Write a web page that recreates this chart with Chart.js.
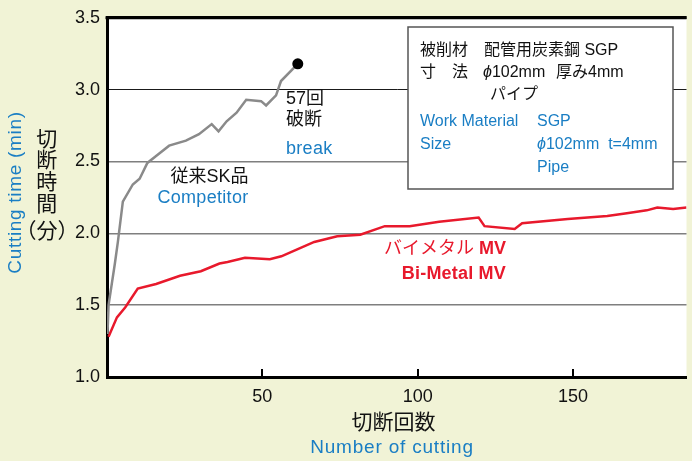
<!DOCTYPE html>
<html><head><meta charset="utf-8">
<script src="https://cdn.jsdelivr.net/npm/chart.js@4/dist/chart.umd.min.js"></script>
<style>html,body{margin:0;padding:0;background:#f1f3d6;} canvas{display:block;}</style>
</head><body>
<canvas id="c" width="692" height="461"></canvas>
<script>
// ---- data ----
const competitorX = [0.15, 0.5, 2.5, 3.5, 5.1, 8.3, 10.5, 13.0, 15.9, 20.0, 25.4, 29.6, 33.7, 35.9, 38.5, 41.7, 44.8, 49.6, 51.2, 54.4, 56.0, 61.4];
const competitorY = [1.30, 1.50, 1.785, 1.94, 2.22, 2.34, 2.38, 2.49, 2.54, 2.61, 2.645, 2.69, 2.76, 2.71, 2.78, 2.84, 2.93, 2.92, 2.89, 2.96, 3.06, 3.18];
const bimetalX = [0.5, 3.2, 5.9, 9.9, 15.8, 23.5, 30.2, 36.2, 38.8, 44.4, 52.4, 56.1, 61.4, 66.7, 74.1, 81.5, 89.4, 97.4, 106.9, 119.6, 121.5, 131.2, 133.6, 148.3, 161.0, 167.3, 173.7, 177.1, 182.2, 186.5];
const bimetalY = [1.28, 1.415, 1.485, 1.615, 1.647, 1.705, 1.736, 1.79, 1.80, 1.83, 1.82, 1.84, 1.89, 1.94, 1.98, 1.99, 2.05, 2.05, 2.08, 2.11, 2.05, 2.03, 2.07, 2.10, 2.12, 2.14, 2.16, 2.18, 2.17, 2.18];
const xTickValues = [50, 100, 150];
const yMin = 1.0, yMax = 3.5, yStep = 0.5;
const xMin = 0, xMax = 186.5;

const FONT = '"Liberation Sans", Arial, "Noto Sans CJK JP", sans-serif';
const BLUE = '#1a7ec4';
const RED = '#e8192c';
const CREAM = '#f1f3d6';

function pts(xs, ys){ return xs.map((x,i)=>({x:x, y:ys[i]})); }

const bgPlugin = {
  id:'bg',
  beforeDraw(chart){
    const {ctx, chartArea:a} = chart;
    ctx.save();
    ctx.fillStyle = CREAM;
    ctx.fillRect(0,0,chart.width,chart.height);
    ctx.fillStyle = '#ffffff';
    ctx.fillRect(a.left, a.top, a.right-a.left, a.bottom-a.top);
    ctx.restore();
  }
};

function txt(ctx, s, x, y, opt){
  ctx.save();
  ctx.font = opt.font;
  ctx.fillStyle = opt.color || '#111';
  ctx.textAlign = opt.align || 'left';
  ctx.textBaseline = opt.baseline || 'middle';
  if (opt.ls) ctx.letterSpacing = opt.ls + 'px';
  ctx.fillText(s, x, y);
  const w = ctx.measureText(s).width;
  ctx.restore();
  return w;
}
function phiText(ctx, s, x, y, font, color){
  const w = txt(ctx, 'ϕ', x, y, {font:'italic ' + font, color:color});
  txt(ctx, s, x + w, y, {font:font, color:color});
}

const annoPlugin = {
  id:'anno',
  afterDraw(chart){
    const {ctx, chartArea:a} = chart;
    const xs = chart.scales.x;
    // inward tick marks
    ctx.save();
    ctx.strokeStyle = '#000'; ctx.lineWidth = 2;
    xTickValues.forEach(v=>{
      const px = Math.round(xs.getPixelForValue(v));
      ctx.beginPath(); ctx.moveTo(px, a.bottom-8); ctx.lineTo(px, a.bottom); ctx.stroke();
    });
    // top border
    ctx.lineWidth = 3;
    ctx.beginPath(); ctx.moveTo(a.left-1.5, a.top); ctx.lineTo(a.right, a.top); ctx.stroke();
    ctx.restore();

    // info box
    ctx.save();
    ctx.fillStyle = '#fff'; ctx.strokeStyle = '#555'; ctx.lineWidth = 1.5;
    ctx.fillRect(408, 27, 265, 162); ctx.strokeRect(408, 27, 265, 162);
    ctx.restore();
    const bf = '16px ' + FONT;
    txt(ctx, '被削材', 420, 51, {font:bf});
    txt(ctx, '配管用炭素鋼 SGP', 484, 51, {font:bf});
    txt(ctx, '寸', 420, 73, {font:bf});
    txt(ctx, '法', 452, 73, {font:bf});
    phiText(ctx, '102mm', 483, 73, bf, '#111');
    txt(ctx, '厚み4mm', 556, 73, {font:bf});
    txt(ctx, 'パイプ', 490, 95, {font:bf});
    txt(ctx, 'Work Material', 420, 121.5, {font:bf, color:BLUE});
    txt(ctx, 'SGP', 537, 121.5, {font:bf, color:BLUE});
    txt(ctx, 'Size', 420, 144.5, {font:bf, color:BLUE});
    phiText(ctx, '102mm  t=4mm', 537, 144.5, bf, BLUE);
    txt(ctx, 'Pipe', 537, 167.5, {font:bf, color:BLUE});

    // series labels
    const af = '18px ' + FONT;
    txt(ctx, '57回', 286, 99.5, {font:af});
    txt(ctx, '破断', 286, 120, {font:af});
    txt(ctx, 'break', 286, 149.5, {font:af, color:BLUE, ls:0.3});
    txt(ctx, '従来SK品', 248.5, 177, {font:af, align:'right'});
    txt(ctx, 'Competitor', 248.5, 198.5, {font:af, color:BLUE, align:'right', ls:0.3});
    // bimetal label: katakana regular + MV bold
    ctx.save();
    ctx.font = 'bold 18px ' + FONT;
    const wMV = ctx.measureText('MV').width;
    ctx.restore();
    txt(ctx, 'MV', 506, 249, {font:'bold 18px ' + FONT, color:RED, align:'right'});
    txt(ctx, 'バイメタル ', 506 - wMV, 249, {font:'18px ' + FONT, color:RED, align:'right'});
    txt(ctx, 'Bi-Metal MV', 506, 274, {font:'bold 18px ' + FONT, color:RED, align:'right', ls:0.2});

    // y axis titles
    const tf = '21px ' + FONT;
    ['切','断','時','間'].forEach((ch,i)=>{
      txt(ctx, ch, 46.7, 140 + i*21.7, {font:tf, align:'center'});
    });
    txt(ctx, '（分）', 47, 232.5, {font:tf, align:'center'});
    ctx.save();
    ctx.translate(16, 192.5);
    ctx.rotate(-Math.PI/2);
    txt(ctx, 'Cutting time (min)', 0, 0, {font:'19px ' + FONT, color:BLUE, align:'center', ls:0.7});
    ctx.restore();

    // x axis titles
    txt(ctx, '切断回数', 393.5, 423, {font:tf, align:'center'});
    txt(ctx, 'Number of cutting', 392, 448, {font:'19px ' + FONT, color:BLUE, align:'center', ls:0.8});
  }
};

new Chart(document.getElementById('c'), {
  type:'line',
  data:{
    datasets:[
      {
        label:'Competitor',
        data: pts(competitorX, competitorY),
        borderColor:'#8a8a8a', borderWidth:2.5, tension:0,
        pointRadius: ctx => ctx.dataIndex === competitorX.length-1 ? 5.5 : 0,
        pointBackgroundColor:'#000', pointBorderColor:'#000', pointBorderWidth:0,
        pointHoverRadius:0
      },
      {
        label:'Bi-Metal MV',
        data: pts(bimetalX, bimetalY),
        borderColor:RED, borderWidth:2.5, tension:0,
        pointRadius:0, pointHoverRadius:0
      }
    ]
  },
  options:{
    responsive:false, animation:false, devicePixelRatio:1,
    layout:{padding:{top:14, left:0, right:0, bottom:0}},
    plugins:{legend:{display:false}, tooltip:{enabled:false}},
    events:[],
    scales:{
      x:{
        type:'linear', min:xMin, max:xMax,
        afterFit(s){ s.height = 84; },
        grid:{display:false, drawTicks:false},
        border:{display:true, color:'#000', width:3},
        ticks:{
          stepSize:50, includeBounds:false, padding:9,
          color:'#111', font:{family:FONT, size:18},
          callback:(v)=> xTickValues.includes(v) ? String(v) : ''
        }
      },
      y:{
        type:'linear', min:yMin, max:yMax,
        afterFit(s){ s.width = 107; },
        grid:{
          drawTicks:false,
          color: c => { const v = c.tick && c.tick.value; if (v===yMin) return 'rgba(0,0,0,0)'; if (v===yMax) return '#000'; if (v===3.0) return '#1a1a1a'; return '#7f7f7f'; },
          lineWidth: c => { const v = c.tick && c.tick.value; if (v===yMax) return 3; if (v===3.0) return 1; return 1.5; }
        },
        border:{display:true, color:'#000', width:3},
        ticks:{
          stepSize:yStep, padding:7,
          color:'#111', font:{family:FONT, size:18},
          callback:(v)=> Number(v).toFixed(1)
        }
      }
    }
  },
  plugins:[bgPlugin, annoPlugin]
});
</script>
</body></html>
